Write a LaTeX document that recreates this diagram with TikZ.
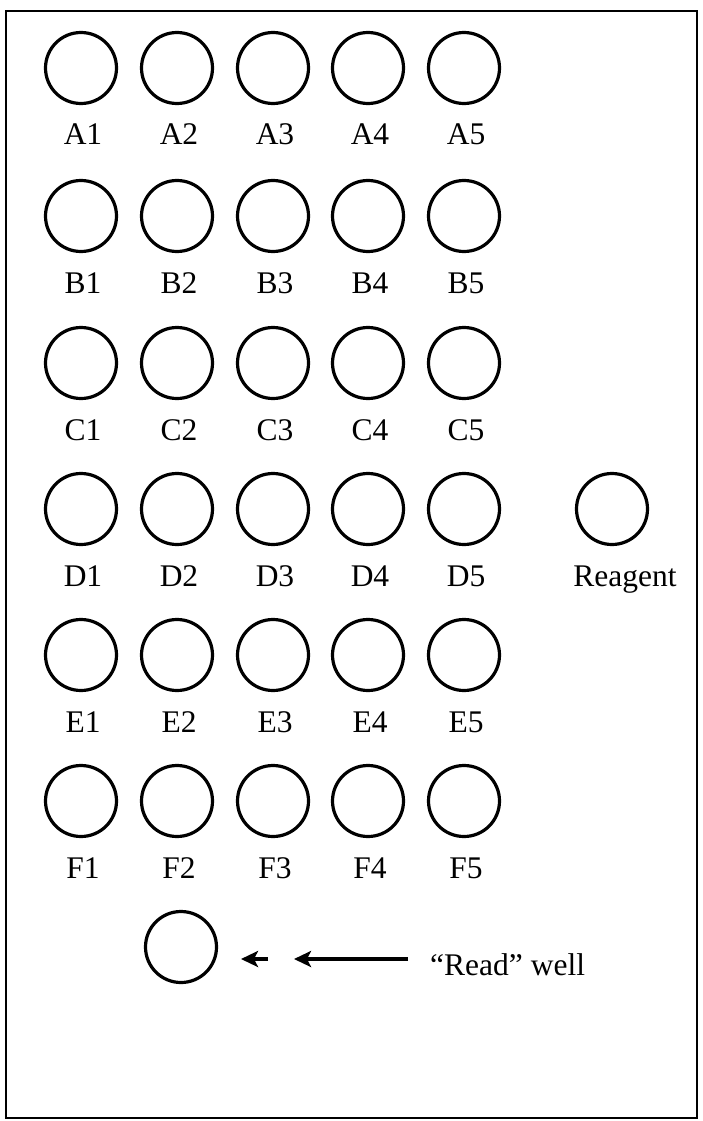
\documentclass[tikz,border=0pt]{standalone}
\usepackage{fontspec}
\setmainfont{Liberation Serif}
\usetikzlibrary{arrows.meta}
\tikzset{
  well/.style={circle,draw,line width=3.2pt,minimum size=71pt,inner sep=0pt},
  lbl/.style={anchor=base,inner sep=0pt,font=\fontsize{31.5}{37.8}\selectfont},
  pointer/.style={line width=3.2pt,-{Stealth[length=17pt,width=16pt,inset=4pt]}}
}
\begin{document}
\begin{tikzpicture}[x=1pt,y=-1pt]
\path[use as bounding box] (0,0) rectangle (702.0,1121.0);
\draw[line width=2pt] (6.0,11.0) rectangle (697.0,1118.0);
% row A
\node[well] (A1) at (81,68) {};
\node[well] (A2) at (177,68) {};
\node[well] (A3) at (273,68) {};
\node[well] (A4) at (368,68) {};
\node[well] (A5) at (464,68) {};
\node[lbl] (lA1) at (83,145) {A1};
\node[lbl] (lA2) at (179,145) {A2};
\node[lbl] (lA3) at (275,145) {A3};
\node[lbl] (lA4) at (370,145) {A4};
\node[lbl] (lA5) at (466,145) {A5};
% row B
\node[well] (B1) at (81,216) {};
\node[well] (B2) at (177,216) {};
\node[well] (B3) at (273,216) {};
\node[well] (B4) at (368,216) {};
\node[well] (B5) at (464,216) {};
\node[lbl] (lB1) at (83,293) {B1};
\node[lbl] (lB2) at (179,293) {B2};
\node[lbl] (lB3) at (275,293) {B3};
\node[lbl] (lB4) at (370,293) {B4};
\node[lbl] (lB5) at (466,293) {B5};
% row C
\node[well] (C1) at (81,363) {};
\node[well] (C2) at (177,363) {};
\node[well] (C3) at (273,363) {};
\node[well] (C4) at (368,363) {};
\node[well] (C5) at (464,363) {};
\node[lbl] (lC1) at (83,440) {C1};
\node[lbl] (lC2) at (179,440) {C2};
\node[lbl] (lC3) at (275,440) {C3};
\node[lbl] (lC4) at (370,440) {C4};
\node[lbl] (lC5) at (466,440) {C5};
% row D
\node[well] (D1) at (81,509) {};
\node[well] (D2) at (177,509) {};
\node[well] (D3) at (273,509) {};
\node[well] (D4) at (368,509) {};
\node[well] (D5) at (464,509) {};
\node[lbl] (lD1) at (83,586) {D1};
\node[lbl] (lD2) at (179,586) {D2};
\node[lbl] (lD3) at (275,586) {D3};
\node[lbl] (lD4) at (370,586) {D4};
\node[lbl] (lD5) at (466,586) {D5};
\node[well] (Rg) at (612,509) {};
\node[lbl] (lRg) at (625,586) {Reagent};
% row E
\node[well] (E1) at (81,655) {};
\node[well] (E2) at (177,655) {};
\node[well] (E3) at (273,655) {};
\node[well] (E4) at (368,655) {};
\node[well] (E5) at (464,655) {};
\node[lbl] (lE1) at (83,732) {E1};
\node[lbl] (lE2) at (179,732) {E2};
\node[lbl] (lE3) at (275,732) {E3};
\node[lbl] (lE4) at (370,732) {E4};
\node[lbl] (lE5) at (466,732) {E5};
% row F
\node[well] (F1) at (81,801) {};
\node[well] (F2) at (177,801) {};
\node[well] (F3) at (273,801) {};
\node[well] (F4) at (368,801) {};
\node[well] (F5) at (464,801) {};
\node[lbl] (lF1) at (83,878) {F1};
\node[lbl] (lF2) at (179,878) {F2};
\node[lbl] (lF3) at (275,878) {F3};
\node[lbl] (lF4) at (370,878) {F4};
\node[lbl] (lF5) at (466,878) {F5};
% read well
\node[well] (Rd) at (181,947) {};
\node[lbl,anchor=base west] (lRd) at (430,975) {“Read” well};
\coordinate (p1s) at (268,959);
\coordinate (p1e) at (241,959);
\coordinate (p2s) at (408,959);
\coordinate (p2e) at (294,959);
\draw[pointer] (p1s) -- (p1e);
\draw[pointer] (p2s) -- (p2e);
\end{tikzpicture}
\end{document}
